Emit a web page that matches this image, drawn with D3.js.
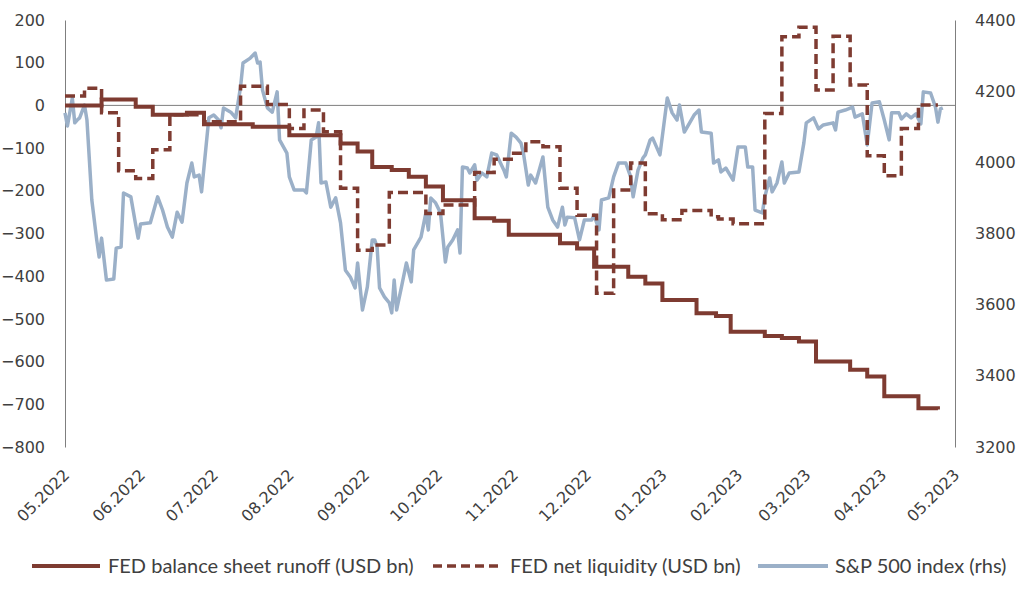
<!DOCTYPE html>
<html><head><meta charset="utf-8">
<script src="https://cdn.jsdelivr.net/npm/d3@7"></script>
<style>
html,body{margin:0;padding:0;background:#fff;}
svg{display:block;}
</style></head>
<body>
<svg id="chart" width="1024" height="594"></svg>
<script>
// ---- data ----
const xTickLabels = ["05.2022","06.2022","07.2022","08.2022","09.2022","10.2022","11.2022","12.2022","01.2023","02.2023","03.2023","04.2023","05.2023"];
const leftTicks = [200,100,0,-100,-200,-300,-400,-500,-600,-700,-800];
const rightTicks = [4400,4200,4000,3800,3600,3400,3200];
const seriesNames = ["FED balance sheet runoff (USD bn)","FED net liquidity (USD bn)","S&P 500 index (rhs)"];

// FED balance sheet runoff (USD bn), step changes
const runoffDates = ["2022-05-01","2022-05-16","2022-05-30","2022-06-06","2022-06-20","2022-06-27","2022-07-17","2022-08-01","2022-08-22","2022-08-29","2022-09-04","2022-09-12","2022-09-19","2022-09-26","2022-10-03","2022-10-16","2022-10-24","2022-10-30","2022-11-20","2022-11-27","2022-12-04","2022-12-18","2022-12-25","2023-01-01","2023-01-15","2023-01-23","2023-01-29","2023-02-12","2023-02-19","2023-02-26","2023-03-05","2023-03-19","2023-03-26","2023-04-02","2023-04-16","2023-04-24"];
const runoffValues = [0,14,-3,-22,-17,-44,-50,-70,-89,-108,-144,-151,-167,-190,-222,-264,-270,-303,-323,-335,-378,-401,-417,-456,-487,-493,-530,-540,-545,-553,-600,-619,-635,-681,-709,-712];

// FED net liquidity (USD bn), step changes
const liqDates = ["2022-05-01","2022-05-09","2022-05-16","2022-05-23","2022-05-30","2022-06-06","2022-06-13","2022-06-27","2022-07-12","2022-07-23","2022-08-01","2022-08-07","2022-08-15","2022-08-22","2022-08-29","2022-09-04","2022-09-11","2022-09-26","2022-10-03","2022-10-16","2022-10-24","2022-10-31","2022-11-06","2022-11-13","2022-11-20","2022-11-27","2022-12-05","2022-12-12","2022-12-19","2022-12-25","2023-01-01","2023-01-09","2023-01-21","2023-01-24","2023-01-30","2023-02-12","2023-02-19","2023-02-26","2023-03-05","2023-03-12","2023-03-19","2023-03-26","2023-04-02","2023-04-09","2023-04-16","2023-04-24"];
const liqValues = [22,40,-17,-153,-171,-104,-22,-38,45,2,-54,-11,-62,-194,-339,-327,-204,-253,-233,-157,-126,-112,-85,-97,-194,-257,-440,-198,-135,-254,-268,-246,-261,-266,-277,-19,161,183,36,162,48,-118,-165,-54,1,1];

// S&P 500 index (rhs)
const spDates = ["2022-05-01","2022-05-02","2022-05-04","2022-05-05","2022-05-06","2022-05-07","2022-05-09","2022-05-10","2022-05-12","2022-05-14","2022-05-15","2022-05-16","2022-05-18","2022-05-21","2022-05-22","2022-05-24","2022-05-25","2022-05-28","2022-05-30","2022-05-31","2022-06-01","2022-06-05","2022-06-08","2022-06-10","2022-06-12","2022-06-14","2022-06-16","2022-06-18","2022-06-20","2022-06-22","2022-06-23","2022-06-25","2022-06-26","2022-06-29","2022-07-01","2022-07-03","2022-07-04","2022-07-05","2022-07-08","2022-07-10","2022-07-12","2022-07-13","2022-07-16","2022-07-18","2022-07-19","2022-07-20","2022-07-21","2022-07-23","2022-07-25","2022-07-27","2022-07-28","2022-07-31","2022-08-01","2022-08-03","2022-08-07","2022-08-08","2022-08-09","2022-08-10","2022-08-12","2022-08-13","2022-08-14","2022-08-16","2022-08-18","2022-08-20","2022-08-22","2022-08-24","2022-08-26","2022-08-28","2022-08-29","2022-08-31","2022-09-02","2022-09-04","2022-09-05","2022-09-06","2022-09-07","2022-09-09","2022-09-11","2022-09-12","2022-09-13","2022-09-14","2022-09-16","2022-09-18","2022-09-20","2022-09-21","2022-09-24","2022-09-26","2022-09-27","2022-09-28","2022-09-30","2022-10-02","2022-10-04","2022-10-05","2022-10-07","2022-10-09","2022-10-10","2022-10-11","2022-10-13","2022-10-14","2022-10-16","2022-10-17","2022-10-19","2022-10-21","2022-10-23","2022-10-25","2022-10-28","2022-10-29","2022-10-31","2022-11-02","2022-11-04","2022-11-05","2022-11-07","2022-11-08","2022-11-10","2022-11-13","2022-11-15","2022-11-17","2022-11-19","2022-11-21","2022-11-22","2022-11-23","2022-11-26","2022-11-28","2022-11-30","2022-12-03","2022-12-04","2022-12-06","2022-12-07","2022-12-10","2022-12-12","2022-12-14","2022-12-17","2022-12-19","2022-12-20","2022-12-22","2022-12-24","2022-12-25","2022-12-27","2022-12-28","2022-12-31","2023-01-03","2023-01-05","2023-01-07","2023-01-08","2023-01-10","2023-01-14","2023-01-16","2023-01-17","2023-01-21","2023-01-22","2023-01-24","2023-01-25","2023-01-27","2023-01-30","2023-02-01","2023-02-04","2023-02-05","2023-02-07","2023-02-08","2023-02-11","2023-02-12","2023-02-14","2023-02-15","2023-02-17","2023-02-19","2023-02-20","2023-02-22","2023-02-26","2023-02-28","2023-03-01","2023-03-04","2023-03-06","2023-03-08","2023-03-12","2023-03-13","2023-03-14","2023-03-17","2023-03-20","2023-03-21","2023-03-24","2023-03-26","2023-03-28","2023-03-31","2023-04-02","2023-04-04","2023-04-05","2023-04-08","2023-04-09","2023-04-11","2023-04-13","2023-04-15","2023-04-17","2023-04-18","2023-04-21","2023-04-23","2023-04-24","2023-04-25","2023-04-26"];
const spValues = [4139,4102,4181,4111,4119,4125,4161,4119,3894,3782,3734,3787,3669,3672,3759,3762,3914,3903,3824,3787,3827,3830,3903,3866,3818,3790,3860,3832,3942,3998,3959,3964,3917,4125,4133,4119,4097,4153,4141,4125,4212,4279,4293,4307,4279,4282,4203,4153,4141,4198,4063,4026,3959,3922,3922,3914,3987,4063,4071,4111,3942,3945,3874,3900,3830,3697,3678,3647,3717,3585,3650,3782,3782,3762,3647,3622,3605,3577,3669,3585,3650,3717,3664,3754,3790,3858,3810,3900,3886,3858,3720,3762,3782,3810,3745,3987,3984,3970,3993,3950,3970,3959,4026,4021,3978,3959,4082,4071,4054,4026,3936,3964,3942,4015,3874,3838,3818,3874,3824,3846,3844,3782,3838,3838,3852,3810,3894,3900,3959,3998,3998,3959,3903,3978,4012,4021,4063,4068,4021,4181,4139,4119,4161,4085,4133,4147,4085,4082,3998,4007,3973,3984,3950,4043,4043,3987,3987,3866,3858,3903,3956,3917,3942,4001,3942,3970,3973,4054,4111,4125,4094,4105,4111,4091,4141,4147,4155,4127,4136,4049,4167,4170,4119,4063,4139,4139,4122,4136,4125,4136,4108,4198,4195,4155,4113,4150,4153];

// ---- chart ----
const M = {left: 65, right: 955, top: 20, bottom: 447};
const colRed = "#7E3B31", colBlue = "#9BB0C8", textCol = "#404040";
const tickFont = "'DejaVu Sans', Verdana, sans-serif";
const parse = d3.timeParse("%Y-%m-%d");
const svg = d3.select("#chart");

const x = d3.scaleTime().domain([new Date(2022,4,1), new Date(2023,4,1)]).range([M.left, M.right]);
const yL = d3.scaleLinear().domain([-800,200]).range([M.bottom, M.top]);
const yR = d3.scaleLinear().domain([3200,4400]).range([M.bottom, M.top]);

const tickDates = xTickLabels.map(s => { const [m,y] = s.split("."); return new Date(+y, +m-1, 1); });

// axes
const gL = svg.append("g").attr("transform", `translate(${M.left},0)`)
  .call(d3.axisLeft(yL).tickValues(leftTicks).tickSize(0).tickPadding(20).tickFormat(d3.format("d")));
const gR = svg.append("g").attr("transform", `translate(${M.right},0)`)
  .call(d3.axisRight(yR).tickValues(rightTicks).tickSize(0).tickPadding(20).tickFormat(d3.format("d")));
[gL,gR].forEach(g => {
  g.select(".domain").attr("stroke", "#7f7f7f").attr("stroke-width", 1);
  g.selectAll("text").attr("font-family", tickFont).attr("font-size", 16).attr("fill", textCol);
});

const gX = svg.append("g").attr("transform", `translate(0,${M.bottom})`)
  .call(d3.axisBottom(x).tickValues(tickDates).tickSize(0).tickFormat((d,i) => xTickLabels[i]));
gX.select(".domain").remove();
gX.selectAll("text")
  .attr("font-family", tickFont).attr("font-size", 16).attr("fill", textCol)
  .attr("text-anchor", "end").attr("dy", null).attr("y", 0)
  .attr("transform", "translate(5,29) rotate(-45)");

// zero line
svg.append("line").attr("x1", M.left).attr("x2", M.right).attr("y1", yL(0)).attr("y2", yL(0))
  .attr("stroke", "#7f7f7f").attr("stroke-width", 1);

const runoff = runoffDates.map((d,i) => ({d: parse(d), v: runoffValues[i]}));
const liq = liqDates.map((d,i) => ({d: parse(d), v: liqValues[i]}));
const sp = spDates.map((d,i) => ({d: parse(d), v: spValues[i]}));

const stepL = d3.line().x(p => x(p.d)).y(p => yL(p.v)).curve(d3.curveStepAfter);
const lineR = d3.line().x(p => x(p.d)).y(p => yR(p.v));

svg.append("path").datum(sp).attr("d", lineR).attr("fill", "none")
  .attr("stroke", colBlue).attr("stroke-width", 3.5).attr("stroke-linejoin", "round");
svg.append("path").datum(liq).attr("d", stepL).attr("fill", "none")
  .attr("stroke", colRed).attr("stroke-width", 3.5).attr("stroke-dasharray", "10,5");
svg.append("path").datum(runoff).attr("d", stepL).attr("fill", "none")
  .attr("stroke", colRed).attr("stroke-width", 4);

// legend
const legY = 566;
const leg = [
  {x1: 32, x2: 100, tx: 108, col: colRed, dash: null, w: 4},
  {x1: 433, x2: 502, tx: 510, col: colRed, dash: "9,5", w: 3.5},
  {x1: 758, x2: 828, tx: 835, col: colBlue, dash: null, w: 4}
];
leg.forEach((l,i) => {
  svg.append("line").attr("x1", l.x1).attr("x2", l.x2).attr("y1", legY).attr("y2", legY)
    .attr("stroke", l.col).attr("stroke-width", l.w).attr("stroke-dasharray", l.dash);
  svg.append("text").attr("x", l.tx).attr("y", legY).attr("dy", "0.35em")
    .attr("font-family", "Lato, sans-serif").attr("font-size", 20).attr("fill", textCol)
    .text(seriesNames[i]);
});
</script>
</body></html>
